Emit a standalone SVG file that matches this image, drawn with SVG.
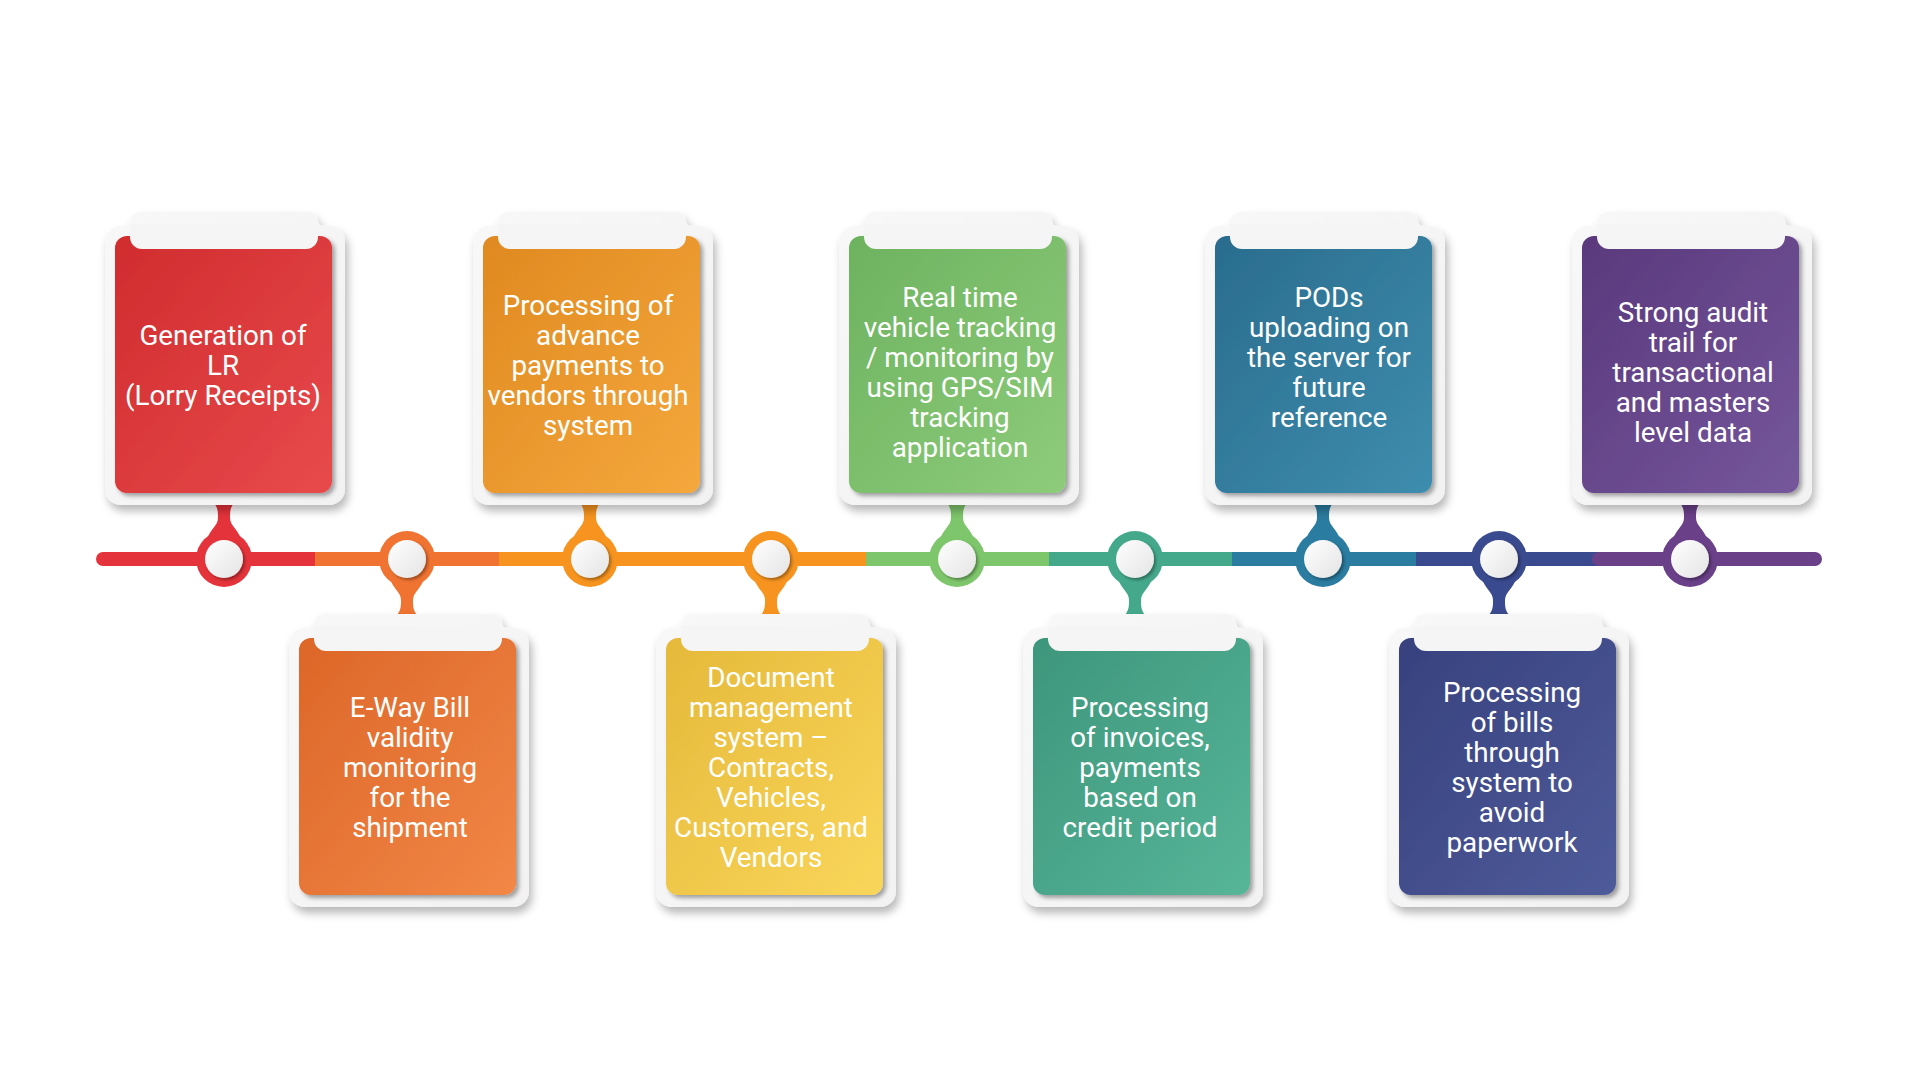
<svg xmlns="http://www.w3.org/2000/svg" xmlns:xlink="http://www.w3.org/1999/xlink" width="1920" height="1078" viewBox="0 0 1920 1078">
<style>
.t{font-family:Roboto,"Liberation Sans",sans-serif;font-size:27.8px;fill:#ffffff;text-anchor:middle}
</style>
<defs>
<filter id="shellSh" x="-20%" y="-20%" width="140%" height="140%">
<feDropShadow dx="3" dy="6" stdDeviation="4" flood-color="#000" flood-opacity="0.28"/>
</filter>
<filter id="cardSh" x="-20%" y="-20%" width="140%" height="140%">
<feDropShadow dx="3" dy="3" stdDeviation="2" flood-color="#000" flood-opacity="0.35"/>
</filter>
<filter id="dotSh" x="-40%" y="-40%" width="180%" height="180%">
<feDropShadow dx="2" dy="2" stdDeviation="1.5" flood-color="#000" flood-opacity="0.35"/>
</filter>
<linearGradient id="gShell" x1="0" y1="0" x2="1" y2="1">
<stop offset="0" stop-color="#F8F8F8"/><stop offset="1" stop-color="#F2F2F2"/>
</linearGradient>
<linearGradient id="gDot" x1="0" y1="0" x2="1" y2="1">
<stop offset="0" stop-color="#FFFFFF"/><stop offset="1" stop-color="#E4E4E4"/>
</linearGradient>
<linearGradient id="cRed" x1="0" y1="0" x2="1" y2="1"><stop offset="0" stop-color="#D02C2E"/><stop offset="1" stop-color="#E84A4C"/></linearGradient>
<linearGradient id="cOrR" x1="0" y1="0" x2="1" y2="1"><stop offset="0" stop-color="#DC6628"/><stop offset="1" stop-color="#F28746"/></linearGradient>
<linearGradient id="cOr" x1="0" y1="0" x2="1" y2="1"><stop offset="0" stop-color="#DF8920"/><stop offset="1" stop-color="#F5A83C"/></linearGradient>
<linearGradient id="cYel" x1="0" y1="0" x2="1" y2="1"><stop offset="0" stop-color="#E5B93A"/><stop offset="1" stop-color="#F9D65A"/></linearGradient>
<linearGradient id="cGrn" x1="0" y1="0" x2="1" y2="1"><stop offset="0" stop-color="#6DB260"/><stop offset="1" stop-color="#8DCC7A"/></linearGradient>
<linearGradient id="cTeal" x1="0" y1="0" x2="1" y2="1"><stop offset="0" stop-color="#3D967B"/><stop offset="1" stop-color="#57B598"/></linearGradient>
<linearGradient id="cBlue" x1="0" y1="0" x2="1" y2="1"><stop offset="0" stop-color="#2A6C8D"/><stop offset="1" stop-color="#3E8DAE"/></linearGradient>
<linearGradient id="cNavy" x1="0" y1="0" x2="1" y2="1"><stop offset="0" stop-color="#37417E"/><stop offset="1" stop-color="#4F5B9A"/></linearGradient>
<linearGradient id="cPur" x1="0" y1="0" x2="1" y2="1"><stop offset="0" stop-color="#5A387C"/><stop offset="1" stop-color="#75579C"/></linearGradient>
<path id="shell" d="M-10,30 A16,16 0 0 1 6,14 L9,14 Q15,14 15,8 L15,10 A10,10 0 0 1 25,0 L193,0 A10,10 0 0 1 203,10 L203,8 Q203,14 209,14 L214,14 A16,16 0 0 1 230,30 L230,277 A16,16 0 0 1 214,293 L6,293 A16,16 0 0 1 -10,277 Z" fill="url(#gShell)" filter="url(#shellSh)"/>
<path id="tab" d="M15,12 L15,25 A12,12 0 0 0 27,37 L191,37 A12,12 0 0 0 203,25 L203,12 Z" fill="#F5F5F5"/>
<rect id="card" x="0" y="24" width="217" height="257" rx="12"/>
<path id="stemTop" d="M-11,502 C-6,507 -6,512 -6,518 C-6,526 -15,530 -17,540 L17,540 C15,530 6,526 6,518 C6,512 6,507 11,502 Z"/>
<path id="stemBot" d="M-11,616 C-6,611 -6,606 -6,600 C-6,592 -15,588 -17,578 L17,578 C15,588 6,592 6,600 C6,606 6,611 11,616 Z"/>
<g id="dot"><circle cx="0" cy="0" r="19" fill="url(#gDot)" filter="url(#dotSh)"/></g>
</defs>

<rect x="0" y="0" width="1920" height="1078" fill="#FFFFFF"/>

<g id="connectors">
<line x1="103" y1="559" x2="315" y2="559" stroke="#E4333A" stroke-width="14" stroke-linecap="round"/>
<line x1="310" y1="559" x2="315" y2="559" stroke="#E4333A" stroke-width="14"/>
<line x1="315" y1="559" x2="499" y2="559" stroke="#F07331" stroke-width="14"/>
<line x1="499" y1="559" x2="866" y2="559" stroke="#F7941F" stroke-width="14"/>
<line x1="866" y1="559" x2="1049" y2="559" stroke="#7EC66B" stroke-width="14"/>
<line x1="1049" y1="559" x2="1232" y2="559" stroke="#44A88A" stroke-width="14"/>
<line x1="1232" y1="559" x2="1416" y2="559" stroke="#2A7CA0" stroke-width="14"/>
<line x1="1416" y1="559" x2="1599" y2="559" stroke="#3A4A8E" stroke-width="14"/>
<line x1="1599" y1="559" x2="1815" y2="559" stroke="#6A4089" stroke-width="14" stroke-linecap="round"/>
<line x1="1599" y1="559" x2="1605" y2="559" stroke="#6A4089" stroke-width="14"/>
<use href="#stemTop" x="224" fill="#E4333A"/>
<use href="#stemBot" x="407" fill="#F07331"/>
<use href="#stemTop" x="590" fill="#F7941F"/>
<use href="#stemBot" x="771" fill="#F7941F"/>
<use href="#stemTop" x="957" fill="#7EC66B"/>
<use href="#stemBot" x="1135" fill="#44A88A"/>
<use href="#stemTop" x="1323" fill="#2A7CA0"/>
<use href="#stemBot" x="1499" fill="#3A4A8E"/>
<use href="#stemTop" x="1690" fill="#6A4089"/>
</g>

<g id="markers">
<circle cx="224" cy="559" r="28" fill="#E4333A"/><use href="#dot" x="224" y="559"/>
<circle cx="407" cy="559" r="28" fill="#F07331"/><use href="#dot" x="407" y="559"/>
<circle cx="590" cy="559" r="28" fill="#F7941F"/><use href="#dot" x="590" y="559"/>
<circle cx="771" cy="559" r="28" fill="#F7941F"/><use href="#dot" x="771" y="559"/>
<circle cx="957" cy="559" r="28" fill="#7EC66B"/><use href="#dot" x="957" y="559"/>
<circle cx="1135" cy="559" r="28" fill="#44A88A"/><use href="#dot" x="1135" y="559"/>
<circle cx="1323" cy="559" r="28" fill="#2A7CA0"/><use href="#dot" x="1323" y="559"/>
<circle cx="1499" cy="559" r="28" fill="#3A4A8E"/><use href="#dot" x="1499" y="559"/>
<circle cx="1690" cy="559" r="28" fill="#6A4089"/><use href="#dot" x="1690" y="559"/>
</g>

<g id="node-lr" transform="translate(115,212)">
<use href="#shell"/><use href="#card" fill="url(#cRed)" filter="url(#cardSh)"/><use href="#tab"/>
<text class="t"><tspan x="108" y="133">Generation of</tspan><tspan x="108" y="163">LR</tspan><tspan x="108" y="193">(Lorry Receipts)</tspan></text>
</g>

<g id="node-eway" transform="translate(299,614)">
<use href="#shell"/><use href="#card" fill="url(#cOrR)" filter="url(#cardSh)"/><use href="#tab"/>
<text class="t"><tspan x="111" y="103">E-Way Bill</tspan><tspan x="111" y="133">validity</tspan><tspan x="111" y="163">monitoring</tspan><tspan x="111" y="193">for the</tspan><tspan x="111" y="223">shipment</tspan></text>
</g>

<g id="node-advance" transform="translate(483,212)">
<use href="#shell"/><use href="#card" fill="url(#cOr)" filter="url(#cardSh)"/><use href="#tab"/>
<text class="t"><tspan x="105" y="103">Processing of</tspan><tspan x="105" y="133">advance</tspan><tspan x="105" y="163">payments to</tspan><tspan x="105" y="193">vendors through</tspan><tspan x="105" y="223">system</tspan></text>
</g>

<g id="node-document" transform="translate(666,614)">
<use href="#shell"/><use href="#card" fill="url(#cYel)" filter="url(#cardSh)"/><use href="#tab"/>
<text class="t"><tspan x="105" y="73">Document</tspan><tspan x="105" y="103">management</tspan><tspan x="105" y="133">system –</tspan><tspan x="105" y="163">Contracts,</tspan><tspan x="105" y="193">Vehicles,</tspan><tspan x="105" y="223">Customers, and</tspan><tspan x="105" y="253">Vendors</tspan></text>
</g>

<g id="node-tracking" transform="translate(849,212)">
<use href="#shell"/><use href="#card" fill="url(#cGrn)" filter="url(#cardSh)"/><use href="#tab"/>
<text class="t"><tspan x="111" y="95">Real time</tspan><tspan x="111" y="125">vehicle tracking</tspan><tspan x="111" y="155">/ monitoring by</tspan><tspan x="111" y="185">using GPS/SIM</tspan><tspan x="111" y="215">tracking</tspan><tspan x="111" y="245">application</tspan></text>
</g>

<g id="node-invoices" transform="translate(1033,614)">
<use href="#shell"/><use href="#card" fill="url(#cTeal)" filter="url(#cardSh)"/><use href="#tab"/>
<text class="t"><tspan x="107" y="103">Processing</tspan><tspan x="107" y="133">of invoices,</tspan><tspan x="107" y="163">payments</tspan><tspan x="107" y="193">based on</tspan><tspan x="107" y="223">credit period</tspan></text>
</g>

<g id="node-pods" transform="translate(1215,212)">
<use href="#shell"/><use href="#card" fill="url(#cBlue)" filter="url(#cardSh)"/><use href="#tab"/>
<text class="t"><tspan x="114" y="95">PODs</tspan><tspan x="114" y="125">uploading on</tspan><tspan x="114" y="155">the server for</tspan><tspan x="114" y="185">future</tspan><tspan x="114" y="215">reference</tspan></text>
</g>

<g id="node-bills" transform="translate(1399,614)">
<use href="#shell"/><use href="#card" fill="url(#cNavy)" filter="url(#cardSh)"/><use href="#tab"/>
<text class="t"><tspan x="113" y="88">Processing</tspan><tspan x="113" y="118">of bills</tspan><tspan x="113" y="148">through</tspan><tspan x="113" y="178">system to</tspan><tspan x="113" y="208">avoid</tspan><tspan x="113" y="238">paperwork</tspan></text>
</g>

<g id="node-audit" transform="translate(1582,212)">
<use href="#shell"/><use href="#card" fill="url(#cPur)" filter="url(#cardSh)"/><use href="#tab"/>
<text class="t"><tspan x="111" y="110">Strong audit</tspan><tspan x="111" y="140">trail for</tspan><tspan x="111" y="170">transactional</tspan><tspan x="111" y="200">and masters</tspan><tspan x="111" y="230">level data</tspan></text>
</g>
</svg>
